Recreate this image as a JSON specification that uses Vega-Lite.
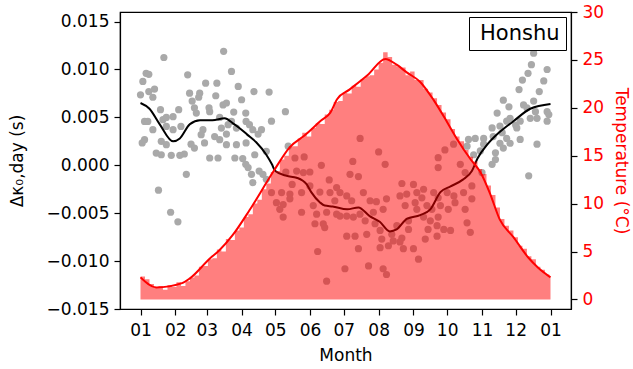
{
  "$schema": "https://vega.github.io/schema/vega-lite/v6.json",
  "width": 451,
  "height": 297,
  "autosize": {"type": "none"},
  "padding": {"left": 120, "top": 12, "right": 62, "bottom": 60},
  "config": {
    "font": "DejaVu Sans",
    "view": {"stroke": "black", "strokeWidth": 1.2},
    "axis": {"grid": false, "domainColor": "black", "tickColor": "black", "labelColor": "black", "titleColor": "black", "labelFontSize": 17, "titleFontSize": 17, "titleFontWeight": "normal", "tickSize": 6, "tickWidth": 1.2, "domainWidth": 1.2, "labelPadding": 5, "labelFont": "DejaVu Sans", "titleFont": "DejaVu Sans", "labelOverlap": false}
  },
  "datasets": {
    "pts": [
      {"d":20.8,"k":0.01125,"region":"Honshu"},{"d":74,"k":0.0119,"region":"Honshu"},{"d":5,"k":0.0096,"region":"Honshu"},{"d":7.4,"k":0.0095,"region":"Honshu"},{"d":2.1,"k":0.00875,"region":"Honshu"},{"d":42,"k":0.00944,"region":"Honshu"},{"d":81,"k":0.0098,"region":"Honshu"},{"d":58,"k":0.00857,"region":"Honshu"},{"d":68,"k":0.00857,"region":"Honshu"},{"d":87,"k":0.00823,"region":"Honshu"},{"d":101,"k":0.0077,"region":"Honshu"},{"d":114.5,"k":0.00764,"region":"Honshu"},{"d":0,"k":0.00736,"region":"Honshu"},{"d":7.4,"k":0.0077,"region":"Honshu"},{"d":12.5,"k":0.00795,"region":"Honshu"},{"d":11,"k":0.0071,"region":"Honshu"},{"d":43.7,"k":0.00753,"region":"Honshu"},{"d":52.7,"k":0.00753,"region":"Honshu"},{"d":51.8,"k":0.0071,"region":"Honshu"},{"d":67,"k":0.00726,"region":"Honshu"},{"d":46,"k":0.0067,"region":"Honshu"},{"d":90,"k":0.00684,"region":"Honshu"},{"d":17.8,"k":0.0058,"region":"Honshu"},{"d":48,"k":0.006,"region":"Honshu"},{"d":61,"k":0.006,"region":"Honshu"},{"d":73.5,"k":0.0063,"region":"Honshu"},{"d":76.5,"k":0.0065,"region":"Honshu"},{"d":34,"k":0.0058,"region":"Honshu"},{"d":49.7,"k":0.00545,"region":"Honshu"},{"d":61.6,"k":0.0056,"region":"Honshu"},{"d":83,"k":0.00555,"region":"Honshu"},{"d":93.7,"k":0.00545,"region":"Honshu"},{"d":3.6,"k":0.00458,"region":"Honshu"},{"d":6.5,"k":0.00458,"region":"Honshu"},{"d":20,"k":0.00476,"region":"Honshu"},{"d":23,"k":0.005,"region":"Honshu"},{"d":29,"k":0.00507,"region":"Honshu"},{"d":70.5,"k":0.005,"region":"Honshu"},{"d":81,"k":0.00458,"region":"Honshu"},{"d":94,"k":0.00458,"region":"Honshu"},{"d":97,"k":0.00424,"region":"Honshu"},{"d":11,"k":0.00372,"region":"Honshu"},{"d":23,"k":0.00406,"region":"Honshu"},{"d":29,"k":0.00372,"region":"Honshu"},{"d":36,"k":0.00406,"region":"Honshu"},{"d":55.6,"k":0.00372,"region":"Honshu"},{"d":72,"k":0.00389,"region":"Honshu"},{"d":78,"k":0.00424,"region":"Honshu"},{"d":85.4,"k":0.00389,"region":"Honshu"},{"d":100,"k":0.00372,"region":"Honshu"},{"d":107.7,"k":0.00372,"region":"Honshu"},{"d":3.6,"k":0.00267,"region":"Honshu"},{"d":1.5,"k":0.00233,"region":"Honshu"},{"d":18.5,"k":0.0025,"region":"Honshu"},{"d":54,"k":0.0032,"region":"Honshu"},{"d":66,"k":0.003,"region":"Honshu"},{"d":76.5,"k":0.00326,"region":"Honshu"},{"d":104.7,"k":0.00326,"region":"Honshu"},{"d":23,"k":0.00215,"region":"Honshu"},{"d":45,"k":0.0022,"region":"Honshu"},{"d":57,"k":0.00233,"region":"Honshu"},{"d":70.5,"k":0.00267,"region":"Honshu"},{"d":76.5,"k":0.00215,"region":"Honshu"},{"d":85.4,"k":0.00215,"region":"Honshu"},{"d":94,"k":0.00233,"region":"Honshu"},{"d":14,"k":0.00128,"region":"Honshu"},{"d":18.5,"k":0.0011,"region":"Honshu"},{"d":27.4,"k":0.00104,"region":"Honshu"},{"d":35,"k":0.00104,"region":"Honshu"},{"d":39,"k":0.00118,"region":"Honshu"},{"d":48,"k":0.0018,"region":"Honshu"},{"d":61.6,"k":0.00076,"region":"Honshu"},{"d":69,"k":0.00076,"region":"Honshu"},{"d":84,"k":0.00076,"region":"Honshu"},{"d":91,"k":0.0007,"region":"Honshu"},{"d":101.7,"k":0.0011,"region":"Honshu"},{"d":112,"k":0.00146,"region":"Honshu"},
      {"d":40.8,"k":-0.00094,"region":"Honshu"},{"d":16,"k":-0.0026,"region":"Honshu"},{"d":26.8,"k":-0.0049,"region":"Honshu"},{"d":33.3,"k":-0.0059,"region":"Honshu"},{"d":93.7,"k":0.0001,"region":"Honshu"},{"d":95.8,"k":-0.00024,"region":"Honshu"},{"d":98.8,"k":-0.00094,"region":"Honshu"},{"d":105.6,"k":-0.0006,"region":"Honshu"},{"d":109,"k":-0.00094,"region":"Honshu"},{"d":100,"k":-0.0018,"region":"Honshu"},{"d":112,"k":-0.00146,"region":"Honshu"},
      {"d":129,"k":0.0056,"region":"Honshu"},{"d":116.6,"k":0.0046,"region":"Honshu"},{"d":131.5,"k":0.002,"region":"Honshu"},{"d":195.5,"k":0.0028,"region":"Honshu"},{"d":212,"k":0.0014,"region":"Honshu"},{"d":137.5,"k":0.00076,"region":"Honshu"},{"d":145.7,"k":0.00087,"region":"Honshu"},{"d":189,"k":0.0004,"region":"Honshu"},
      {"d":161,"k":0.0,"region":"Honshu"},{"d":217.8,"k":0.0001,"region":"Honshu"},{"d":129.4,"k":-0.0007,"region":"Honshu"},{"d":139,"k":-0.0006,"region":"Honshu"},{"d":145,"k":-0.00076,"region":"Honshu"},{"d":150.8,"k":-0.0007,"region":"Honshu"},{"d":186.5,"k":-0.00094,"region":"Honshu"},{"d":194,"k":-0.00118,"region":"Honshu"},{"d":135,"k":-0.002,"region":"Honshu"},{"d":150.8,"k":-0.00215,"region":"Honshu"},{"d":159.7,"k":-0.0028,"region":"Honshu"},{"d":168,"k":-0.00153,"region":"Honshu"},{"d":174.6,"k":-0.00233,"region":"Honshu"},{"d":168.7,"k":-0.00285,"region":"Honshu"},{"d":177.6,"k":-0.00285,"region":"Honshu"},{"d":232.7,"k":-0.0019,"region":"Honshu"},{"d":243,"k":-0.002,"region":"Honshu"},{"d":246,"k":-0.00285,"region":"Honshu"},{"d":237,"k":-0.003,"region":"Honshu"},{"d":231,"k":-0.0032,"region":"Honshu"},{"d":116.6,"k":-0.00285,"region":"Honshu"},{"d":125.6,"k":-0.00285,"region":"Honshu"},{"d":133,"k":-0.003,"region":"Honshu"},{"d":143.4,"k":-0.00285,"region":"Honshu"},{"d":183.6,"k":-0.0032,"region":"Honshu"},{"d":121,"k":-0.0039,"region":"Honshu"},{"d":127,"k":-0.0041,"region":"Honshu"},{"d":133,"k":-0.0035,"region":"Honshu"},{"d":153.8,"k":-0.0042,"region":"Honshu"},{"d":173,"k":-0.0037,"region":"Honshu"},{"d":188,"k":-0.0037,"region":"Honshu"},{"d":198.4,"k":-0.00285,"region":"Honshu"},{"d":204.4,"k":-0.0037,"region":"Honshu"},{"d":210,"k":-0.0038,"region":"Honshu"},{"d":219,"k":-0.0035,"region":"Honshu"},{"d":235.6,"k":-0.0042,"region":"Honshu"},{"d":244.5,"k":-0.0039,"region":"Honshu"},{"d":246,"k":-0.0046,"region":"Honshu"},{"d":124,"k":-0.0046,"region":"Honshu"},{"d":143.4,"k":-0.0049,"region":"Honshu"},{"d":156.8,"k":-0.0051,"region":"Honshu"},{"d":165.7,"k":-0.0049,"region":"Honshu"},{"d":177.6,"k":-0.0053,"region":"Honshu"},{"d":195.4,"k":-0.0051,"region":"Honshu"},{"d":200,"k":-0.0058,"region":"Honshu"},{"d":207.3,"k":-0.0049,"region":"Honshu"},{"d":216,"k":-0.0046,"region":"Honshu"},{"d":127,"k":-0.0054,"region":"Honshu"},{"d":155.3,"k":-0.0061,"region":"Honshu"},{"d":162.7,"k":-0.0061,"region":"Honshu"},{"d":164,"k":-0.0065,"region":"Honshu"},{"d":174.6,"k":-0.0051,"region":"Honshu"},{"d":183.6,"k":-0.0053,"region":"Honshu"},{"d":189.5,"k":-0.0054,"region":"Honshu"},{"d":208.8,"k":-0.0061,"region":"Honshu"},{"d":238.6,"k":-0.0058,"region":"Honshu"},{"d":238.6,"k":-0.0067,"region":"Honshu"},{"d":213.3,"k":-0.0068,"region":"Honshu"},{"d":228.2,"k":-0.0063,"region":"Honshu"},{"d":223.7,"k":-0.0072,"region":"Honshu"},{"d":232.7,"k":-0.0076,"region":"Honshu"},{"d":183.6,"k":-0.0074,"region":"Honshu"},{"d":191,"k":-0.0074,"region":"Honshu"},{"d":201.4,"k":-0.0072,"region":"Honshu"},{"d":214.8,"k":-0.0077,"region":"Honshu"},{"d":225,"k":-0.0079,"region":"Honshu"},{"d":231,"k":-0.008,"region":"Honshu"},{"d":220.7,"k":-0.0084,"region":"Honshu"},{"d":213.3,"k":-0.0086,"region":"Honshu"},{"d":234,"k":-0.0087,"region":"Honshu"},{"d":243,"k":-0.0087,"region":"Honshu"},{"d":247.5,"k":-0.0098,"region":"Honshu"},{"d":194,"k":-0.0087,"region":"Honshu"},{"d":157.7,"k":-0.009,"region":"Honshu"},{"d":182,"k":-0.0108,"region":"Honshu"},{"d":203,"k":-0.0105,"region":"Honshu"},{"d":216,"k":-0.0108,"region":"Honshu"},{"d":219,"k":-0.0114,"region":"Honshu"},{"d":165.7,"k":-0.0121,"region":"Honshu"},
      {"d":265,"k":-0.00024,"region":"Honshu"},{"d":284.7,"k":0.0001,"region":"Honshu"},{"d":289,"k":-0.00076,"region":"Honshu"},{"d":295,"k":-0.00215,"region":"Honshu"},{"d":252,"k":-0.0025,"region":"Honshu"},{"d":250.5,"k":-0.0034,"region":"Honshu"},{"d":261,"k":-0.00285,"region":"Honshu"},{"d":265,"k":-0.0034,"region":"Honshu"},{"d":273,"k":-0.00285,"region":"Honshu"},{"d":279,"k":-0.0032,"region":"Honshu"},{"d":287.6,"k":-0.00285,"region":"Honshu"},{"d":295,"k":-0.0035,"region":"Honshu"},{"d":255,"k":-0.0042,"region":"Honshu"},{"d":259.4,"k":-0.0046,"region":"Honshu"},{"d":267,"k":-0.0042,"region":"Honshu"},{"d":274,"k":-0.0046,"region":"Honshu"},{"d":280,"k":-0.0039,"region":"Honshu"},{"d":289,"k":-0.0046,"region":"Honshu"},{"d":252,"k":-0.0054,"region":"Honshu"},{"d":258,"k":-0.0058,"region":"Honshu"},{"d":265,"k":-0.0054,"region":"Honshu"},{"d":256,"k":-0.0067,"region":"Honshu"},{"d":264,"k":-0.0063,"region":"Honshu"},{"d":270,"k":-0.0067,"region":"Honshu"},{"d":276,"k":-0.0068,"region":"Honshu"},{"d":290.7,"k":-0.006,"region":"Honshu"},{"d":293.6,"k":-0.007,"region":"Honshu"},{"d":253.5,"k":-0.0077,"region":"Honshu"},{"d":264,"k":-0.0074,"region":"Honshu"},{"d":345.6,"k":-0.0011,"region":"Honshu"},{"d":304,"k":-0.00076,"region":"Honshu"},{"d":313,"k":0.0001,"region":"Honshu"},{"d":316,"k":0.0006,"region":"Honshu"},
      {"d":350,"k":0.0117,"region":"Honshu"},{"d":348,"k":0.0105,"region":"Honshu"},{"d":362,"k":0.01,"region":"Honshu"},{"d":345,"k":0.0096,"region":"Honshu"},{"d":340,"k":0.0089,"region":"Honshu"},{"d":359,"k":0.0088,"region":"Honshu"},{"d":337,"k":0.0079,"region":"Honshu"},{"d":355,"k":0.0077,"region":"Honshu"},{"d":323,"k":0.0068,"region":"Honshu"},{"d":328,"k":0.0061,"region":"Honshu"},{"d":341,"k":0.0063,"region":"Honshu"},{"d":350,"k":0.0067,"region":"Honshu"},{"d":317.5,"k":0.00545,"region":"Honshu"},{"d":329,"k":0.0049,"region":"Honshu"},{"d":344,"k":0.006,"region":"Honshu"},{"d":351.6,"k":0.0056,"region":"Honshu"},{"d":362,"k":0.0056,"region":"Honshu"},{"d":362,"k":0.0046,"region":"Honshu"},{"d":363.5,"k":0.0053,"region":"Honshu"},{"d":326,"k":0.0046,"region":"Honshu"},{"d":334,"k":0.0042,"region":"Honshu"},{"d":347,"k":0.0049,"region":"Honshu"},{"d":353,"k":0.0049,"region":"Honshu"},{"d":313,"k":0.0039,"region":"Honshu"},{"d":320,"k":0.0041,"region":"Honshu"},{"d":335,"k":0.0039,"region":"Honshu"},{"d":338,"k":0.0046,"region":"Honshu"},{"d":292,"k":0.0027,"region":"Honshu"},{"d":298,"k":0.0028,"region":"Honshu"},{"d":305.5,"k":0.0028,"region":"Honshu"},{"d":314,"k":0.003,"region":"Honshu"},{"d":322,"k":0.0034,"region":"Honshu"},{"d":326,"k":0.0028,"region":"Honshu"},{"d":290.7,"k":0.002,"region":"Honshu"},{"d":305.5,"k":0.0022,"region":"Honshu"},{"d":320,"k":0.0023,"region":"Honshu"},{"d":329,"k":0.0023,"region":"Honshu"},{"d":338,"k":0.0027,"region":"Honshu"},{"d":316,"k":0.0013,"region":"Honshu"},{"d":323,"k":0.0018,"region":"Honshu"},{"d":302.5,"k":0.0015,"region":"Honshu"},{"d":296.6,"k":0.0011,"region":"Honshu"},{"d":353,"k":0.0022,"region":"Honshu"},{"d":271,"k":0.0016,"region":"Honshu"},{"d":278.7,"k":0.0022,"region":"Honshu"},{"d":265,"k":0.0008,"region":"Honshu"}
    ],
    "kline": [
      {"d":0,"k":0.0065},{"d":8,"k":0.0059},{"d":17,"k":0.0043},{"d":29,"k":0.0025},{"d":35,"k":0.0028},{"d":44,"k":0.0043},{"d":53,"k":0.0047},{"d":64,"k":0.0047},{"d":75,"k":0.0049},{"d":82,"k":0.0044},{"d":88,"k":0.0039},{"d":95,"k":0.0032},{"d":103,"k":0.0024},{"d":112,"k":0.0011},{"d":117,"k":0.0001},{"d":120,"k":-0.0006},{"d":130,"k":-0.0011},{"d":139,"k":-0.0013},{"d":148,"k":-0.002},{"d":152,"k":-0.0028},{"d":160,"k":-0.0039},{"d":164,"k":-0.0042},{"d":171,"k":-0.0043},{"d":184,"k":-0.0046},{"d":194,"k":-0.0044},{"d":204,"k":-0.0053},{"d":213,"k":-0.0059},{"d":222,"k":-0.0069},{"d":228,"k":-0.0067},{"d":237,"k":-0.0056},{"d":249,"k":-0.0052},{"d":258,"k":-0.0046},{"d":267,"k":-0.0028},{"d":276,"k":-0.0022},{"d":287,"k":-0.0015},{"d":295,"k":-0.0006},{"d":300,"k":0.0007},{"d":309,"k":0.0022},{"d":320,"k":0.0035},{"d":332,"k":0.0046},{"d":347,"k":0.0059},{"d":365,"k":0.0064}
    ],
    "temp": [
      {"d":0,"t":2.4},{"d":4,"t":2.1},{"d":8,"t":1.6},{"d":12,"t":1.2},{"d":16,"t":1.4},{"d":20,"t":1.0},{"d":24,"t":1.5},{"d":28,"t":1.3},{"d":32,"t":1.8},{"d":36,"t":1.4},{"d":40,"t":1.9},{"d":44,"t":2.3},{"d":48,"t":2.5},{"d":52,"t":3.4},{"d":56,"t":3.5},{"d":60,"t":4.2},{"d":64,"t":4.3},{"d":68,"t":5.2},{"d":72,"t":5.0},{"d":76,"t":6.3},{"d":80,"t":6.2},{"d":84,"t":7.2},{"d":88,"t":7.5},{"d":92,"t":8.6},{"d":96,"t":8.9},{"d":100,"t":10.0},{"d":104,"t":10.4},{"d":108,"t":11.5},{"d":112,"t":12.1},{"d":116,"t":13.3},{"d":120,"t":13.4},{"d":124,"t":14.6},{"d":128,"t":15.0},{"d":132,"t":16.0},{"d":136,"t":16.0},{"d":140,"t":16.8},{"d":144,"t":17.4},{"d":148,"t":17.0},{"d":152,"t":17.9},{"d":156,"t":18.4},{"d":160,"t":18.3},{"d":164,"t":19.3},{"d":168,"t":19.8},{"d":172,"t":20.6},{"d":176,"t":20.7},{"d":180,"t":21.6},{"d":184,"t":21.5},{"d":188,"t":22.3},{"d":192,"t":22.2},{"d":196,"t":23.0},{"d":200,"t":23.3},{"d":204,"t":23.4},{"d":208,"t":24.0},{"d":212,"t":24.7},{"d":216,"t":25.8},{"d":220,"t":25.3},{"d":224,"t":24.5},{"d":228,"t":24.3},{"d":232,"t":24.2},{"d":236,"t":23.4},{"d":240,"t":23.8},{"d":244,"t":22.9},{"d":248,"t":22.9},{"d":252,"t":22.0},{"d":256,"t":21.6},{"d":260,"t":21.0},{"d":264,"t":20.3},{"d":268,"t":19.5},{"d":272,"t":18.8},{"d":276,"t":17.8},{"d":280,"t":17.0},{"d":284,"t":16.5},{"d":288,"t":15.6},{"d":292,"t":14.9},{"d":296,"t":14.4},{"d":300,"t":13.6},{"d":304,"t":13.1},{"d":308,"t":11.9},{"d":312,"t":10.9},{"d":316,"t":9.6},{"d":320,"t":8.4},{"d":324,"t":7.7},{"d":328,"t":7.2},{"d":332,"t":6.5},{"d":336,"t":5.6},{"d":340,"t":5.3},{"d":344,"t":4.5},{"d":348,"t":4.2},{"d":352,"t":3.4},{"d":356,"t":3.1},{"d":360,"t":2.6},{"d":364,"t":2.3},{"d":365,"t":2.3}
    ],
    "tline": [
      {"d":0,"t":2.3},{"d":14,"t":1.25},{"d":37,"t":1.7},{"d":44,"t":2.2},{"d":62,"t":4.3},{"d":70,"t":5.1},{"d":82,"t":6.7},{"d":97,"t":9.3},{"d":118,"t":13.3},{"d":133,"t":15.9},{"d":146,"t":17.1},{"d":161,"t":18.7},{"d":169,"t":19.5},{"d":175,"t":20.9},{"d":186,"t":21.9},{"d":202,"t":23.4},{"d":218,"t":25.1},{"d":228,"t":24.5},{"d":237,"t":23.7},{"d":249,"t":22.7},{"d":261,"t":20.8},{"d":273,"t":18.5},{"d":282,"t":16.7},{"d":294,"t":14.6},{"d":303,"t":13.2},{"d":311,"t":11.1},{"d":320,"t":8.3},{"d":332,"t":6.5},{"d":345,"t":4.4},{"d":354,"t":3.3},{"d":365,"t":2.3}
    ]
  },
  "layer": [
    {
      "layer": [
        {
          "data": {"name": "pts"},
          "mark": {"type": "point", "filled": true, "size": 52, "opacity": 1},
          "encoding": {
            "x": {"field": "d", "type": "quantitative", "scale": {"domain": [-18.25, 383.25], "nice": false, "zero": false},
              "axis": {"values": [0,31,59,90,120,151,181,212,243,273,304,334,365], "tickCount": 30, "labelExpr": "['01','02','03','04','05','06','07','08','09','10','11','12','01'][indexof([0,31,59,90,120,151,181,212,243,273,304,334,365], datum.value)]", "labelOverlap": false, "title": "Month", "titlePadding": 9, "labelPadding": 7}},
            "y": {"field": "k", "type": "quantitative", "scale": {"domain": [-0.015, 0.016], "nice": false, "zero": false},
              "axis": {"values": [-0.015,-0.01,-0.005,0,0.005,0.01,0.015], "tickCount": 20, "format": ".3f", "title": "Δκ₀,day (s)", "titlePadding": 20}},
            "color": {"field": "region", "type": "nominal", "scale": {"range": ["#a9a9a9"]},
              "legend": {"title": null, "orient": "top-right", "offset": 5, "symbolSize": 0, "symbolOpacity": 0, "symbolStrokeWidth": 0, "labelFontSize": 21, "labelOffset": -16, "labelColor": "black", "labelFont": "DejaVu Sans", "padding": 6, "strokeColor": "black", "fillColor": "white", "cornerRadius": 0}}
          }
        },
        {
          "data": {"name": "kline"},
          "mark": {"type": "line", "color": "black", "strokeWidth": 2, "interpolate": "monotone"},
          "encoding": {"x": {"field": "d", "type": "quantitative"}, "y": {"field": "k", "type": "quantitative"}}
        }
      ]
    },
    {
      "layer": [
        {
          "data": {"name": "temp"},
          "mark": {"type": "area", "color": "#ff0000", "opacity": 0.5, "interpolate": "step-after"},
          "encoding": {
            "x": {"field": "d", "type": "quantitative"},
            "y": {"field": "t", "type": "quantitative", "scale": {"domain": [-1, 30], "nice": false, "zero": false},
              "axis": {"orient": "right", "values": [0,5,10,15,20,25,30], "tickCount": 20, "labelColor": "red", "titleColor": "red", "title": "Temperature (°C)", "titlePadding": 8}},
            "y2": {"datum": 0}
          }
        },
        {
          "data": {"name": "tline"},
          "mark": {"type": "line", "color": "#ff0000", "strokeWidth": 2, "interpolate": "monotone"},
          "encoding": {"x": {"field": "d", "type": "quantitative"}, "y": {"field": "t", "type": "quantitative"}}
        }
      ]
    }
  ],
  "resolve": {"scale": {"y": "independent"}}
}
